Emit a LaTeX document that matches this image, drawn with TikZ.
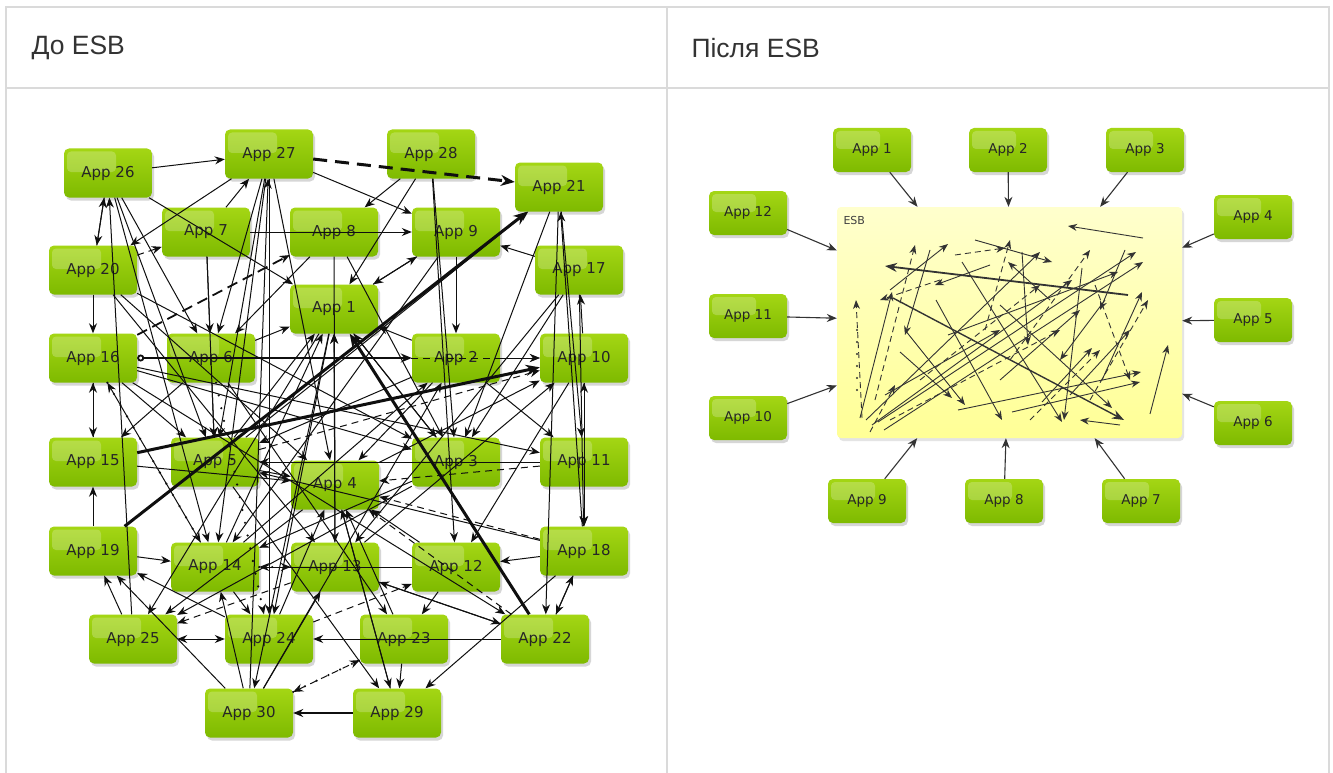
\documentclass[tikz,border=0pt]{standalone}
\usepackage{fontspec}
\setmainfont{Liberation Sans}
\newfontfamily\appfont{DejaVu Sans}
\usetikzlibrary{arrows.meta, shadows}
\definecolor{appgreen}{RGB}{126, 186, 0}
\definecolor{appgreenlt}{RGB}{164, 214, 20}
\definecolor{esbyellow}{RGB}{255, 255, 150}
\definecolor{esblight}{RGB}{255, 255, 205}
\definecolor{gridgray}{RGB}{218, 218, 218}
\definecolor{headtext}{RGB}{51, 51, 51}
\definecolor{wire}{RGB}{15, 15, 15}

\tikzset{
  app/.style={rounded corners=5pt, minimum width=88pt, minimum height=49pt, inner sep=0pt,
    top color=appgreenlt, bottom color=appgreen, text=black!85,
    font=\appfont\fontsize{15}{18}\selectfont,
    drop shadow={shadow xshift=2pt, shadow yshift=-3pt, fill=black!40, opacity=0.4},
    path picture={\fill[white, opacity=0.22, rounded corners=4pt]
      ([shift={(3pt,-3pt)}]path picture bounding box.north west) rectangle
      ([shift={(8pt,1pt)}]path picture bounding box.center);}},
  smallapp/.style={app, minimum width=78pt, minimum height=44pt,
    font=\appfont\fontsize{13.5}{16}\selectfont},
  head/.style={anchor=west, text=headtext, font=\fontsize{26.5}{30}\selectfont},
  link/.style={draw=wire, line width=1pt, -{Stealth[length=10pt, width=8pt]}},
  dashlink/.style={link, dash pattern=on 7pt off 5pt},
  heavy/.style={link, line width=3pt, -{Stealth[length=14pt, width=11pt]}},
  twoway/.style={link, {Stealth[length=10pt, width=8pt]}-{Stealth[length=10pt, width=8pt]}},
  dotlink/.style={link, line width=2.4pt, line cap=round, dash pattern=on 0pt off 13pt},
  feed/.style={draw=black!80, line width=1.1pt, -{Stealth[length=10pt, width=8pt]}},
  busline/.style={draw=black!80, line width=0.9pt, -{Stealth[length=9pt, width=7pt]}}
}

\begin{document}
\begin{tikzpicture}[x=1pt, y=-1pt]
  \useasboundingbox[fill=white] (0,0) rectangle (1333,773);

  % table frame
  \draw[gridgray, line width=2pt] (6,800) -- (6,7) -- (1329,7) -- (1329,800);
  \draw[gridgray, line width=2pt] (6,88) -- (1329,88);
  \draw[gridgray, line width=2pt] (667,7) -- (667,800);
  \node[head] (hbefore) at (28,48) {До ESB};
  \node[head] (hafter) at (688,48) {Після ESB};

  % Before: point-to-point applications
  \node[app] (a26) at (108,173) {App 26};
  \node[app] (a27) at (269,154) {App 27};
  \node[app] (a28) at (431,154) {App 28};
  \node[app] (a21) at (559,187) {App 21};
  \node[app] (a7)  at (206,232) {App 7};
  \node[app] (a8)  at (334,232) {App 8};
  \node[app] (a9)  at (456,232) {App 9};
  \node[app] (a20) at (93,270)  {App 20};
  \node[app] (a17) at (579,270) {App 17};
  \node[app] (a1)  at (334,309) {App 1};
  \node[app] (a16) at (93,358)  {App 16};
  \node[app] (a6)  at (211,358) {App 6};
  \node[app] (a2)  at (456,358) {App 2};
  \node[app] (a10) at (584,358) {App 10};
  \node[app] (a15) at (93,462)  {App 15};
  \node[app] (a5)  at (215,462) {App 5};
  \node[app] (a4)  at (335,485) {App 4};
  \node[app] (a3)  at (456,462) {App 3};
  \node[app] (a11) at (584,462) {App 11};
  \node[app] (a19) at (93,551)  {App 19};
  \node[app] (a14) at (215,567) {App 14};
  \node[app] (a13) at (335,567) {App 13};
  \node[app] (a12) at (456,567) {App 12};
  \node[app] (a18) at (584,551) {App 18};
  \node[app] (a25) at (133,639) {App 25};
  \node[app] (a24) at (269,639) {App 24};
  \node[app] (a23) at (404,639) {App 23};
  \node[app] (a22) at (545,639) {App 22};
  \node[app] (a30) at (249,713) {App 30};
  \node[app] (a29) at (397,713) {App 29};

  % the tangle
  \foreach \s/\t in {26/27, 28/8, 28/1, 28/12, 7/9, 17/9, 5/21, 10/17, 11/10, 18/21,
      21/22, 26/1, 27/20, 7/27, 26/6, 25/26, 20/16, 26/20, 20/26, 16/15, 15/16, 19/15,
      19/14, 22/24, 22/18, 18/22, 18/12, 23/29, 18/29, 30/14, 30/13, 30/19, 14/24, 4/25,
      12/23, 16/22, 13/22, 27/6, 27/5, 27/14, 27/4, 30/27, 27/9, 8/3, 9/2, 1/9, 6/1,
      20/3, 20/13, 16/11, 16/3, 4/10, 13/10, 14/2, 15/4, 5/4, 2/4, 12/4, 3/25, 1/25,
      1/24, 1/30, 9/14, 17/3, 21/3, 21/11, 10/12, 17/13, 6/23, 5/29, 4/29, 24/19, 25/19,
      14/16, 6/15, 16/5, 7/6, 7/5, 8/6, 20/4, 26/14, 26/5, 2/10, 8/13, 1/3, 2/11, 10/18,
      11/18, 17/18, 27/24, 28/3, 9/1, 2/1, 3/1, 4/1, 5/1, 13/1, 14/1, 6/5, 2/5, 11/5,
      18/5, 3/14, 12/14, 22/13, 29/4, 23/4, 24/4, 30/2}
    \draw[link] (a\s) -- (a\t);
  \foreach \s/\t in {20/7, 11/4, 22/4, 18/4, 24/12, 23/30, 13/25, 5/10, 6/10}
    \draw[dashlink] (a\s) -- (a\t);
  \foreach \s/\t in {16/14, 30/23, 6/24, 14/13}
    \draw[dotlink] (a\s) -- (a\t);
  \draw[twoway] (a25) -- (a24);
  \draw[link, line width=1.8pt] (a29) -- (a30);
  \draw[link, line width=1.8pt, {Circle[open, length=7pt]}-{Stealth[length=11pt, width=9pt]}] (a16) -- (a2);
  \draw[link, line width=1.8pt, dash pattern=on 11pt off 6pt] (a16) -- (a8);
  \draw[heavy] (a15) -- (a10);
  \draw[heavy] (a19) -- (a21);
  \draw[heavy] (a22) -- (a1);
  \draw[heavy, dash pattern=on 14pt off 8pt] (a27) -- (a21);

  % After: everything goes through the bus
  \node[rounded corners=4pt, minimum width=345pt, minimum height=231pt,
    top color=esblight, bottom color=esbyellow,
    drop shadow={shadow xshift=2pt, shadow yshift=-3pt, fill=black!30, opacity=0.35}] (esb) at (1009.5,322.5) {};
  \node[anchor=west, font=\appfont\fontsize{11}{13}\selectfont, text=black!75] (esblabel) at (840,220) {ESB};

  % inside the bus it is still a mess
  \foreach \xa/\ya/\xb/\yb in {1143/238/1068/226, 860/418/892/292, 866/420/1040/252,
      872/425/1072/280, 878/422/1136/252, 884/430/1143/262, 905/330/965/405, 900/352/952/398,
      1000/305/1112/408, 962/262/1062/422, 1022/252/1028/345, 948/335/1118/272,
      1012/412/1140/382, 1102/380/1142/292, 1150/414/1168/345, 936/300/1002/420,
      975/240/1052/262, 1042/402/1092/348, 958/410/1141/372, 1082/268/1064/420,
      930/250/905/335, 1000/380/1080/310, 890/290/948/244, 1105/300/1060/360,
      1120/425/1080/420, 990/265/935/285, 1070/395/1130/330, 1050/300/1008/262,
      885/395/1000/330, 1125/250/1100/310}
    \draw[busline] (\xa,\ya) -- (\xb,\yb);
  \foreach \xa/\ya/\xb/\yb in {862/418/856/300, 870/432/895/385, 875/400/915/245,
      890/420/1060/330, 955/255/1005/248, 1090/400/1148/300, 1010/360/1090/250,
      920/380/1040/285, 1030/420/1100/350, 1095/285/1130/380, 940/280/880/300, 985/330/1010/240}
    \draw[busline, dash pattern=on 6pt off 4pt] (\xa,\ya) -- (\xb,\yb);
  \draw[busline, line width=1.8pt, -{Stealth[length=12pt, width=9pt]}] (1128,295) -- (885,266);
  \draw[busline, line width=1.4pt, -{Stealth[length=12pt, width=9pt]}] (893,298) -- (1124,420);
  \draw[black!80, line width=2.2pt, line cap=round, dash pattern=on 0pt off 12pt] (857,330) -- (857,395);

  \node[smallapp] (b1)  at (872,150)  {App 1};
  \node[smallapp] (b2)  at (1008,150) {App 2};
  \node[smallapp] (b3)  at (1145,150) {App 3};
  \node[smallapp] (b12) at (748,213)  {App 12};
  \node[smallapp] (b4)  at (1253,217) {App 4};
  \node[smallapp] (b11) at (748,316)  {App 11};
  \node[smallapp] (b5)  at (1253,320) {App 5};
  \node[smallapp] (b10) at (748,418)  {App 10};
  \node[smallapp] (b6)  at (1253,423) {App 6};
  \node[smallapp] (b9)  at (867,501)  {App 9};
  \node[smallapp] (b8)  at (1004,501) {App 8};
  \node[smallapp] (b7)  at (1141,501) {App 7};

  \foreach \n in {1,...,12}
    \draw[feed] (b\n) -- (esb);
\end{tikzpicture}
\end{document}
